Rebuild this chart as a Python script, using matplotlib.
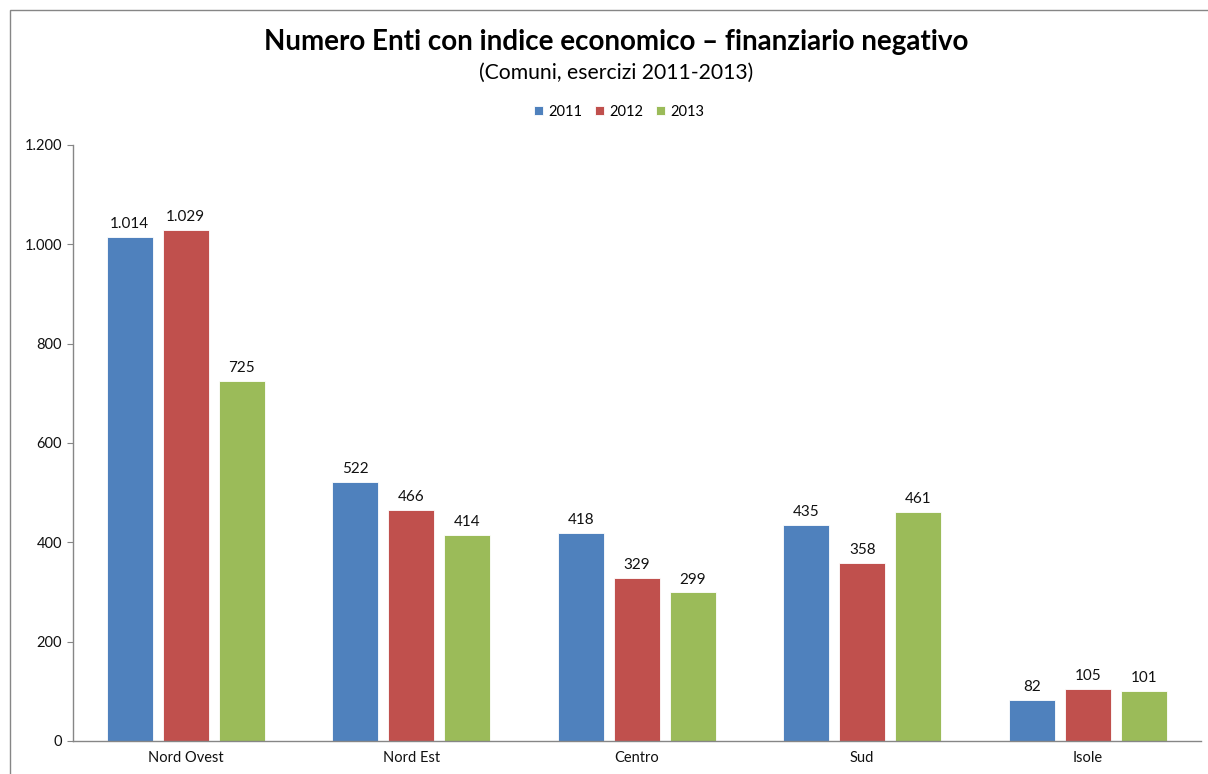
import matplotlib
matplotlib.use("Agg")
import matplotlib.pyplot as plt
from matplotlib.patches import Rectangle
from matplotlib.ticker import FuncFormatter
import numpy as np

categories = ["Nord Ovest", "Nord Est", "Centro", "Sud", "Isole"]
years = ["2011", "2012", "2013"]
values_2011 = [1014, 522, 418, 435, 82]
values_2012 = [1029, 466, 329, 358, 105]
values_2013 = [725, 414, 299, 461, 101]
colors = ["#4F81BD", "#C0504D", "#9BBB59"]

plt.rcParams["font.family"] = ["Lato", "DejaVu Sans"]

W, H = 1208, 774
fig = plt.figure(figsize=(W / 100, H / 100), dpi=100)

# outer chart frame
fig.patches.append(Rectangle((10 / W, -0.1), 1.2, (H - 10) / H + 0.1,
                             transform=fig.transFigure, fill=False,
                             edgecolor="#868686", linewidth=1.0))

ax = fig.add_axes([73 / W, 33 / H, (1200.5 - 73) / W, (741 - 145) / H])

def it_fmt(v, pos=None):
    return f"{int(round(v)):,}".replace(",", ".")

x = np.arange(len(categories))
bw = 0.204
step = 0.248
series = [values_2011, values_2012, values_2013]
for i, (vals, c, yr) in enumerate(zip(series, colors, years)):
    bars = ax.bar(x + (i - 1) * step, vals, width=bw, color=c, label=yr,
                  edgecolor="white", linewidth=0.6, zorder=2)
    for b, v in zip(bars, vals):
        ax.text(b.get_x() + b.get_width() / 2, v + 12, it_fmt(v),
                ha="center", va="bottom", fontsize=11, color="#111111")

ax.set_xlim(-0.5, len(categories) - 0.5)
ax.set_ylim(0, 1200)
ax.set_yticks(np.arange(0, 1201, 200))
ax.yaxis.set_major_formatter(FuncFormatter(it_fmt))
ax.set_xticks(x)
ax.set_xticklabels(categories)
ax.tick_params(axis="x", length=0, labelsize=10.5, pad=7, colors="#111111")
ax.tick_params(axis="y", length=4, labelsize=10.5, pad=4, colors="#111111",
               direction="out")
ax.tick_params(axis="y", color="#868686")
for s in ["top", "right"]:
    ax.spines[s].set_visible(False)
for s in ["left", "bottom"]:
    ax.spines[s].set_color("#868686")
    ax.spines[s].set_linewidth(1.0)

cx = 616 / W
fig.text(cx, 1 - 42 / H, "Numero Enti con indice economico \u2013 finanziario negativo",
         ha="center", va="center", fontsize=20, fontweight="bold", color="#000000")
fig.text(cx, 1 - 73 / H, "(Comuni, esercizi 2011-2013)",
         ha="center", va="center", fontsize=15.2, color="#000000")

fig.legend(loc="center", bbox_to_anchor=(619 / W, 1 - 112 / H), ncol=3, frameon=False,
           fontsize=10.5, handlelength=0.6, handleheight=0.6, handletextpad=0.35,
           columnspacing=0.9)

fig.savefig("out.png", dpi=100)
